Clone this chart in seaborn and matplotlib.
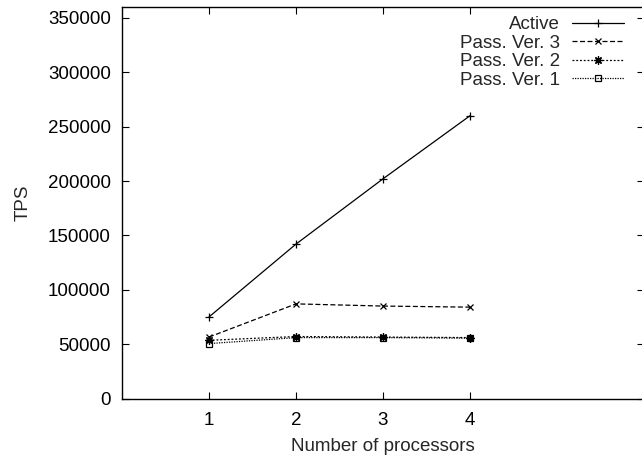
import matplotlib
matplotlib.use("Agg")
import matplotlib.pyplot as plt
import seaborn as sns
import pandas as pd

processors = [1, 2, 3, 4]
active = [75000, 142000, 202000, 260000]
pass_v3 = [56500, 87000, 85000, 84000]
pass_v2 = [53500, 57000, 56500, 56000]
pass_v1 = [50500, 56000, 56000, 55500]

series = [
    ("Active", active, "-", "+", 6),
    ("Pass. Ver. 3", pass_v3, (0, (4, 2)), "x", 5),
    ("Pass. Ver. 2", pass_v2, (0, (1.5, 1.5)), (8, 2, 0), 6),
    ("Pass. Ver. 1", pass_v1, (0, (1, 1)), "s", 4.5),
]

sns.set_style("ticks")
plt.rcParams["font.family"] = ["Liberation Sans", "DejaVu Sans"]
plt.rcParams["font.size"] = 13.5

fig = plt.figure(figsize=(6.42, 4.57), dpi=100)
W, H = 642, 457
left, right, top, bottom = 122, 644, 7, 398.5
ax = fig.add_axes([left / W, 1 - bottom / H, (right - left) / W, (bottom - top) / H])

for name, vals, ls, mk, ms in series:
    df = pd.DataFrame({"x": processors, "y": vals})
    sns.lineplot(data=df, x="x", y="y", ax=ax, color="black", linewidth=0.9,
                 linestyle=ls, marker=mk, markersize=ms,
                 markerfacecolor="none" if mk == "s" else "black",
                 markeredgecolor="black", markeredgewidth=0.9, label=name)

ax.set_xlim(0, 6)
ax.set_ylim(0, 360000)
ax.set_xticks(processors)
ax.set_yticks(range(0, 350001, 50000))
ax.set_yticklabels([str(v) for v in range(0, 350001, 50000)])
ax.tick_params(direction="in", length=5, width=0.8, top=True, right=True,
               labelsize=13.5, colors="black", pad=8)
ax.tick_params(axis="x", pad=10)
for s in ax.spines.values():
    s.set_linewidth(1.0)
    s.set_color("black")
ax.set_xlabel("Number of processors", fontsize=13.5, labelpad=6)
ax.set_ylabel("TPS", fontsize=13.5)
ax.yaxis.set_label_coords(-(122 - 32) / 522, 0.5)

leg = ax.legend(loc="upper right", bbox_to_anchor=(624 / 642, 1 - 16 / 457),
                bbox_transform=fig.transFigure, frameon=False, markerfirst=False,
                handlelength=2.8, handletextpad=0.6, labelspacing=0.08,
                borderaxespad=0, borderpad=0, fontsize=13.5)
leg._legend_box.align = "right"

fig.savefig("out.png", dpi=100)
